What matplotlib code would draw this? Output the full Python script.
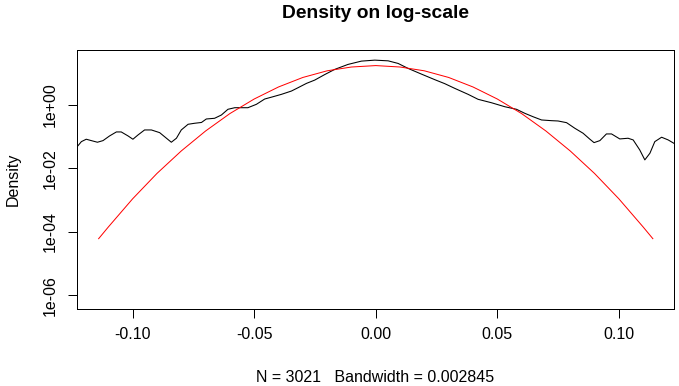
# Density on log-scale
# Kernel density of the returns (black) against a fitted normal (red)

import numpy as np
import matplotlib
matplotlib.use('Agg')
import matplotlib.pyplot as plt

plt.rcParams['font.family'] = ['Liberation Sans', 'DejaVu Sans']
plt.rcParams['axes.unicode_minus'] = False

# kernel density (x, log10 density)
kde_x = [-0.1228, -0.1211, -0.1191, -0.1170, -0.1145, -0.1122, -0.1095, -0.1067,
         -0.1047, -0.1019, -0.0999, -0.0978, -0.0951, -0.0923, -0.0889, -0.0861,
         -0.0841, -0.0820, -0.0800, -0.0772, -0.0745, -0.0717, -0.0697, -0.0663,
         -0.0635, -0.0608, -0.0580, -0.0553, -0.0526, -0.0491, -0.0457, -0.0423,
         -0.0388, -0.0347, -0.0320, -0.0285, -0.0251, -0.0210, -0.0169, -0.0114,
         -0.0059, -0.0004, 0.0051, 0.0092, 0.0133, 0.0188, 0.0243, 0.0284,
         0.0325, 0.0380, 0.0421, 0.0476, 0.0531, 0.0579, 0.0613, 0.0647,
         0.0682, 0.0723, 0.0750, 0.0785, 0.0819, 0.0853, 0.0881, 0.0898,
         0.0922, 0.0949, 0.0970, 0.1004, 0.1038, 0.1059, 0.1086, 0.1107,
         0.1128, 0.1148, 0.1176, 0.1203, 0.1226]
kde_logd = [-1.313, -1.156, -1.080, -1.124, -1.175, -1.124, -0.976, -0.850,
            -0.850, -0.976, -1.080, -0.945, -0.787, -0.787, -0.872, -1.049,
            -1.175, -1.049, -0.787, -0.608, -0.576, -0.551, -0.441, -0.419,
            -0.315, -0.135, -0.085, -0.085, -0.085, 0.022, 0.189, 0.261,
            0.337, 0.441, 0.545, 0.683, 0.787, 0.961, 1.124, 1.282,
            1.386, 1.417, 1.395, 1.313, 1.156, 0.976, 0.800, 0.674,
            0.526, 0.337, 0.180, 0.072, -0.054, -0.135, -0.261, -0.369,
            -0.472, -0.494, -0.504, -0.557, -0.734, -0.891, -1.080, -1.187,
            -1.124, -0.913, -0.913, -1.071, -1.049, -1.102, -1.417, -1.732,
            -1.521, -1.156, -1.017, -1.102, -1.206]

# fitted normal curve (x, log10 density)
norm_x = [-0.114, -0.11, -0.10, -0.09, -0.08, -0.07, -0.06, -0.05, -0.04, -0.03,
          -0.02, -0.01, 0.0, 0.01, 0.02, 0.03, 0.04, 0.05, 0.06, 0.07,
          0.08, 0.09, 0.10, 0.11, 0.114]
norm_logd = [-4.22, -3.85, -2.96, -2.16, -1.45, -0.82, -0.27, 0.19, 0.57, 0.87,
             1.08, 1.20, 1.245, 1.20, 1.08, 0.87, 0.57, 0.19, -0.27, -0.82,
             -1.45, -2.16, -2.96, -3.85, -4.22]

x_ticks = [-0.10, -0.05, 0.00, 0.05, 0.10]
x_labels = ['-0.10', '-0.05', '0.00', '0.05', '0.10']
y_ticks = [1e-6, 1e-4, 1e-2, 1e0]
y_labels = ['1e-06', '1e-04', '1e-02', '1e+00']

fig = plt.figure(figsize=(679 / 96, 386 / 96), dpi=96)
ax = fig.add_axes([77 / 679, 1 - 309 / 386, (674 - 77) / 679, (309 - 50) / 386])

ax.plot(kde_x, 10 ** np.array(kde_logd), color='black', lw=0.8)
ax.plot(norm_x, 10 ** np.array(norm_logd), color='red', lw=0.75)

ax.set_yscale('log')
ax.set_xlim(-0.1229, 0.1227)
ax.set_ylim(10 ** -6.44, 10 ** 1.737)

ax.set_xticks(x_ticks)
ax.set_xticklabels(x_labels)
ax.set_yticks(y_ticks)
ax.set_yticklabels(y_labels, rotation=90, va='center')
ax.minorticks_off()
ax.tick_params(axis='both', length=6.75, width=0.75, labelsize=12, color='black')
ax.tick_params(axis='x', pad=7)
ax.tick_params(axis='y', pad=8)
for s in ax.spines.values():
    s.set_linewidth(0.75)

fig.text(375.5 / 679, 1 - 18 / 386, 'Density on log-scale', ha='center', va='baseline',
         fontsize=14.4, fontweight='bold')
fig.text(375.5 / 679, 1 - 377 / 386, 'N = 3021   Bandwidth = 0.002845', ha='center',
         va='center', fontsize=12)
fig.text(13 / 679, 1 - 179.5 / 386, 'Density', ha='center', va='center', rotation=90,
         fontsize=12)

fig.savefig('out.png', dpi=96)
